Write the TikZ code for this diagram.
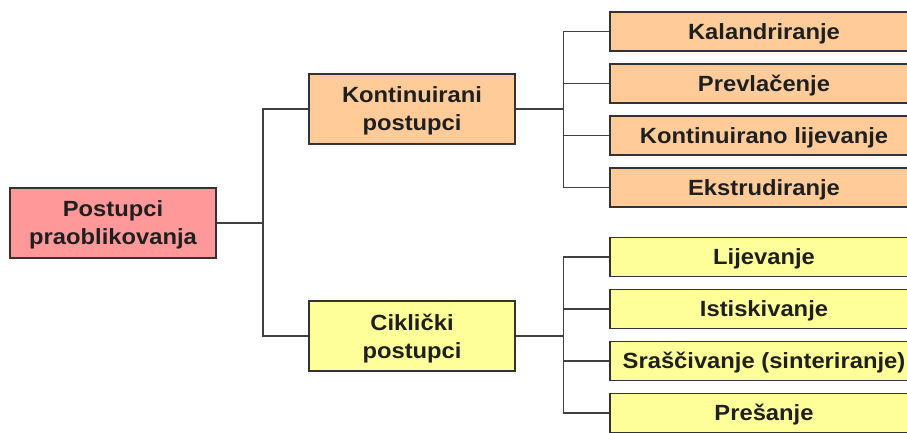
\documentclass[tikz,border=0pt]{standalone}
\usepackage{fontspec}
\setmainfont[FakeStretch=1.08]{Liberation Sans}
\begin{document}
\begin{tikzpicture}[x=1pt,y=-1pt,
  box/.style={draw=black!80, line width=1.4pt, align=center, inner sep=0pt,
    font=\fontsize{22}{28}\selectfont\bfseries, text=black!88},
  bigbox/.style={box, minimum width=206pt, minimum height=70pt, text depth=0pt},
  leafbox/.style={box, minimum width=320pt, minimum height=39pt, text height=15.8pt, text depth=0pt},
  conn/.style={draw=black!75, line width=1.5pt}]
\useasboundingbox (0,0) rectangle (907,433);
\node[bigbox, fill={rgb,255:red,255;green,153;blue,153}] (root) at (113,223) {Postupci\\praoblikovanja};
\node[bigbox, fill={rgb,255:red,255;green,204;blue,153}] (kont) at (412,109) {Kontinuirani\\postupci};
\node[bigbox, fill={rgb,255:red,255;green,255;blue,153}] (cikl) at (412,336) {Ciklički\\postupci};
\foreach \n/\y/\t in {ka/31.5/Kalandriranje, pr/83.5/Prevlačenje, kl/135.5/Kontinuirano lijevanje, ek/187.5/Ekstrudiranje}
  \node[leafbox, fill={rgb,255:red,255;green,204;blue,153}, xshift=6pt] (\n) at (764,\y) {\hspace*{-12pt}\t};
\foreach \n/\y/\t in {li/257/Lijevanje, is/309/Istiskivanje, sr/361/{Sraščivanje (sinteriranje)}, ps/413/Prešanje}
  \node[leafbox, fill={rgb,255:red,255;green,255;blue,153}, xshift=6pt] (\n) at (764,\y) {\hspace*{-12pt}\t};
\draw[conn] (root.east) -- ++(46.5,0) |- (kont.west);
\draw[conn] (root.east) -- ++(46.5,0) |- (cikl.west);
\foreach \n in {ka,pr,kl,ek} \draw[conn] (kont.east) -- ++(48,0) |- (\n.west);
\foreach \n in {li,is,sr,ps} \draw[conn] (cikl.east) -- ++(48,0) |- (\n.west);
\end{tikzpicture}
\end{document}
